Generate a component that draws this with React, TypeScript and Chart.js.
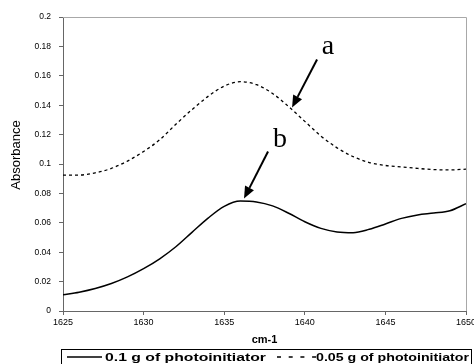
import React, { useEffect, useRef } from "react";
import { Chart, registerables } from "chart.js";

Chart.register(...registerables);

const wavenumbers = [
  1625, 1626, 1627, 1628, 1629, 1630, 1631, 1632, 1633, 1634, 1635, 1636, 1637,
  1638, 1639, 1640, 1641, 1642, 1643, 1644, 1645, 1646, 1647, 1648, 1649, 1650,
];
const series01g = [
  0.011, 0.0128, 0.0153, 0.0187, 0.0232, 0.0288, 0.0355, 0.0437, 0.0535, 0.0632,
  0.0712, 0.0748, 0.0742, 0.0715, 0.0665, 0.0607, 0.0562, 0.0538, 0.0533, 0.0556,
  0.0592, 0.0630, 0.0653, 0.0666, 0.0682, 0.073,
];
const series005g = [
  0.0925, 0.0925, 0.094, 0.097, 0.102, 0.1085, 0.1165, 0.127, 0.137, 0.146, 0.153,
  0.156, 0.154, 0.148, 0.139, 0.129, 0.119, 0.111, 0.105, 0.101, 0.099, 0.098,
  0.097, 0.0962, 0.096, 0.0965,
];
const seriesLabels = ["0.1 g of photoinitiator", "0.05 g of photoinitiator"];
const xTitle = "cm-1";
const yTitle = "Absorbance";

// annotation labels with arrow (tail -> head) in data coordinates
const annotations = [
  { text: "a", tx: 1641.44, ty: 0.1745, x1: 1640.76, y1: 0.1711, x2: 1639.21, y2: 0.1384 },
  { text: "b", tx: 1638.46, ty: 0.1119, x1: 1637.72, y1: 0.1085, x2: 1636.23, y2: 0.0765 },
];

const SANS = '"Liberation Sans", Arial, sans-serif';

function fillWideText(ctx: CanvasRenderingContext2D, text: string, x: number, y: number, width: number) {
  const w = ctx.measureText(text).width;
  ctx.save();
  ctx.translate(x, y);
  ctx.scale(width / w, 1);
  ctx.fillText(text, 0, 0);
  ctx.restore();
}

export default function App() {
  const ref = useRef<HTMLCanvasElement | null>(null);

  useEffect(() => {
    const canvas = ref.current;
    if (!canvas) return;

    const decorPlugin = {
      id: "decor",
      afterDatasetsDraw(chart: any) {
        const { ctx, chartArea } = chart;
        const xs = chart.scales.x;
        const ys = chart.scales.y;
        ctx.save();
        // plot area frame (top/right)
        ctx.strokeStyle = "#a8a8a8";
        ctx.lineWidth = 1;
        ctx.beginPath();
        ctx.moveTo(chartArea.left, Math.round(chartArea.top) + 0.5);
        ctx.lineTo(Math.round(chartArea.right) + 0.5, Math.round(chartArea.top) + 0.5);
        ctx.lineTo(Math.round(chartArea.right) + 0.5, chartArea.bottom);
        ctx.stroke();

        // y axis title
        ctx.fillStyle = "#000";
        ctx.save();
        ctx.translate(16, 155);
        ctx.rotate(-Math.PI / 2);
        ctx.font = "13px " + SANS;
        ctx.textAlign = "center";
        ctx.textBaseline = "middle";
        ctx.fillText(yTitle, 0, 0);
        ctx.restore();

        // annotations
        ctx.strokeStyle = "#000";
        for (const a of annotations) {
          ctx.font = '28px "Liberation Serif", "Times New Roman", serif';
          ctx.textAlign = "center";
          ctx.textBaseline = "alphabetic";
          ctx.fillText(a.text, xs.getPixelForValue(a.tx), ys.getPixelForValue(a.ty));
          const x1 = xs.getPixelForValue(a.x1);
          const y1 = ys.getPixelForValue(a.y1);
          const x2 = xs.getPixelForValue(a.x2);
          const y2 = ys.getPixelForValue(a.y2);
          const ang = Math.atan2(y2 - y1, x2 - x1);
          const hl = 12;
          const hw = 5;
          const bx = x2 - hl * Math.cos(ang);
          const by = y2 - hl * Math.sin(ang);
          ctx.lineWidth = 2;
          ctx.beginPath();
          ctx.moveTo(x1, y1);
          ctx.lineTo(bx, by);
          ctx.stroke();
          ctx.beginPath();
          ctx.moveTo(x2, y2);
          ctx.lineTo(bx + hw * Math.sin(ang), by - hw * Math.cos(ang));
          ctx.lineTo(bx - hw * Math.sin(ang), by + hw * Math.cos(ang));
          ctx.closePath();
          ctx.fill();
        }

        // legend box
        ctx.lineWidth = 1;
        ctx.strokeStyle = "#000";
        ctx.strokeRect(61.5, 349.5, 410, 24);
        const cy = 357;
        ctx.lineWidth = 1.5;
        ctx.setLineDash([]);
        ctx.beginPath();
        ctx.moveTo(67, cy);
        ctx.lineTo(102, cy);
        ctx.stroke();
        ctx.font = "bold 11px " + SANS;
        ctx.textAlign = "left";
        ctx.textBaseline = "middle";
        fillWideText(ctx, seriesLabels[0], 105, cy + 0.5, 161);
        ctx.lineWidth = 1.5;
        ctx.setLineDash([4, 7.7]);
        ctx.beginPath();
        ctx.moveTo(277, cy);
        ctx.lineTo(316, cy);
        ctx.stroke();
        ctx.setLineDash([]);
        fillWideText(ctx, seriesLabels[1], 316, cy + 0.5, 153);
        ctx.restore();
      },
    };

    const chart = new Chart(canvas, {
      type: "line",
      data: {
        datasets: [
          {
            label: seriesLabels[0],
            data: wavenumbers.map((x, i) => ({ x, y: series01g[i] })),
            borderColor: "#000",
            borderWidth: 1.5,
            pointRadius: 0,
            cubicInterpolationMode: "monotone",
            fill: false,
          },
          {
            label: seriesLabels[1],
            data: wavenumbers.map((x, i) => ({ x, y: series005g[i] })),
            borderColor: "#000",
            borderWidth: 1.3,
            borderDash: [3, 3],
            pointRadius: 0,
            cubicInterpolationMode: "monotone",
            fill: false,
          },
        ],
      },
      options: {
        responsive: false,
        animation: false,
        events: [],
        layout: { padding: { top: 17, right: 8, bottom: 15, left: 0 } },
        plugins: {
          legend: { display: false },
          tooltip: { enabled: false },
        },
        scales: {
          x: {
            type: "linear",
            min: 1625,
            max: 1650,
            ticks: {
              stepSize: 5,
              color: "#000",
              font: { family: SANS, size: 9 },
              padding: 2,
              maxRotation: 0,
              callback: (v: any) => String(Math.round(Number(v))),
            },
            grid: { drawOnChartArea: false, drawTicks: true, tickLength: 4, color: "#666" },
            border: { color: "#666" },
            title: {
              display: true,
              text: xTitle,
              color: "#000",
              font: { family: SANS, size: 11, weight: "bold" },
              padding: { top: 0, bottom: 2 },
            },
            afterFit(scale: any) {
              scale.height = 38;
              scale.paddingLeft = 0;
              scale.paddingRight = 0;
            },
          },
          y: {
            min: 0,
            max: 0.2,
            ticks: {
              stepSize: 0.02,
              color: "#000",
              font: { family: SANS, size: 8.5 },
              padding: 8,
              callback: (v: any) => String(Math.round(Number(v) * 100) / 100),
            },
            grid: { drawOnChartArea: false, drawTicks: true, tickLength: 4, color: "#666" },
            border: { color: "#666" },
            title: { display: false },
            afterFit(scale: any) {
              scale.width = 63;
              scale.paddingTop = 0;
              scale.paddingBottom = 0;
            },
          },
        },
      },
      plugins: [decorPlugin],
    });

    return () => chart.destroy();
  }, []);

  return (
    <div style={{ position: "absolute", left: 0, top: 0, width: 474, height: 364, background: "#fff" }}>
      <canvas ref={ref} width={474} height={364} style={{ display: "block" }} />
    </div>
  );
}
